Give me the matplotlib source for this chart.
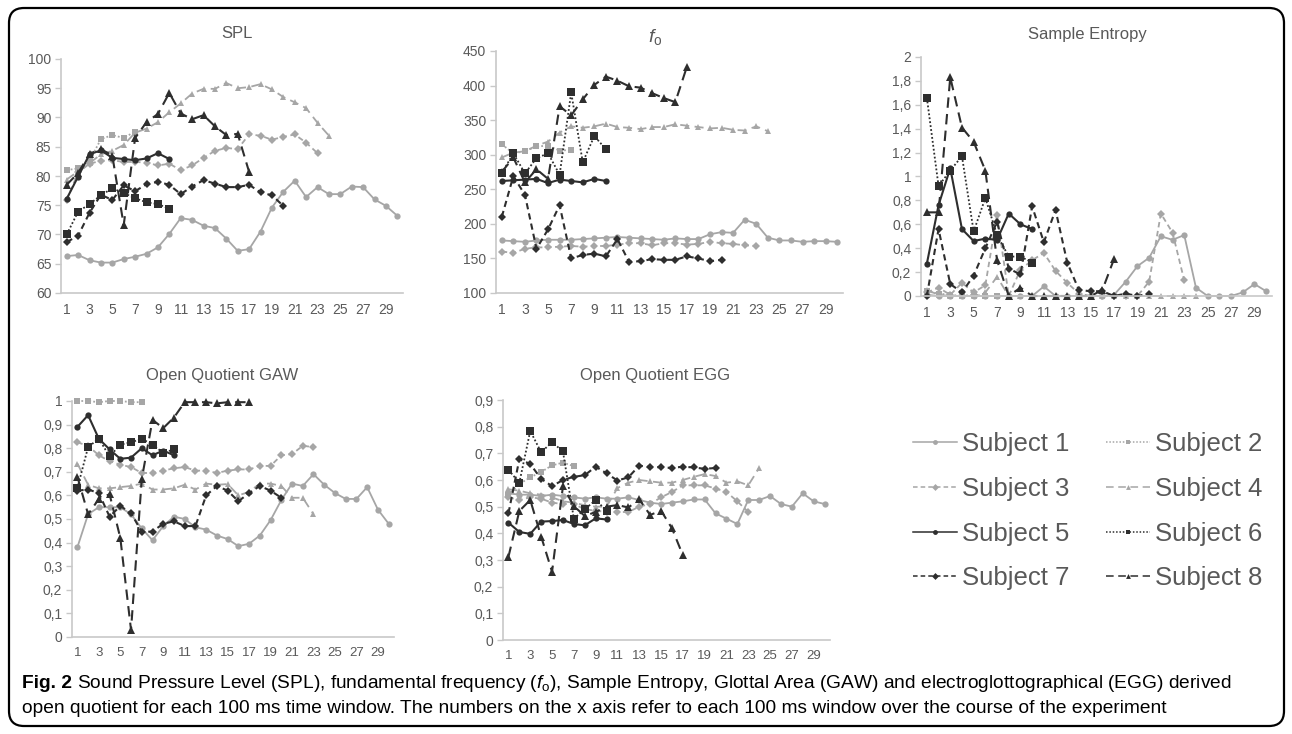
import matplotlib
matplotlib.use('Agg')
import matplotlib.pyplot as plt
from matplotlib.lines import Line2D
from matplotlib.patches import FancyBboxPatch
from matplotlib.ticker import FuncFormatter

plt.rcParams['font.family'] = ['Liberation Sans', 'DejaVu Sans']
plt.rcParams['mathtext.fontset'] = 'custom'
plt.rcParams['mathtext.rm'] = 'Liberation Sans'
plt.rcParams['mathtext.it'] = 'Liberation Sans:italic'
plt.rcParams['mathtext.bf'] = 'Liberation Sans:bold'

# ---- data ----
windows = list(range(1, 31))
subjects = ['Subject 1', 'Subject 2', 'Subject 3', 'Subject 4',
            'Subject 5', 'Subject 6', 'Subject 7', 'Subject 8']

spl_1 = [66.3, 66.5, 65.6, 65.2, 65.2, 65.8, 66.2, 66.7, 67.8, 70.1, 72.8, 72.5, 71.5, 71.1, 69.3,
         67.2, 67.5, 70.5, 74.6, 77.3, 79.2, 76.4, 78.1, 76.9, 76.9, 78.2, 78.1, 76.0, 74.9, 73.2]
spl_2 = [81.0, 81.3, 82.6, 86.3, 87.0, 86.5, 87.6]
spl_3 = [75.9, 80.6, 82.1, 82.6, 82.7, 82.4, 82.4, 82.3, 81.8, 82.1, 81.0, 81.8, 83.1, 84.3, 84.8,
         84.6, 87.1, 86.9, 86.2, 86.7, 87.1, 85.7, 83.9]
spl_4 = [79.4, 80.8, 82.2, 83.7, 84.3, 85.3, 87.4, 88.1, 89.2, 90.9, 92.4, 94.1, 94.9, 94.9, 95.9,
         95.0, 95.2, 95.7, 94.8, 93.5, 92.6, 91.6, 89.1, 86.9]
spl_5 = [76.1, 79.9, 83.7, 84.4, 83.1, 82.9, 82.7, 83.0, 83.9, 82.9]
spl_6 = [70.0, 73.9, 75.2, 76.7, 77.9, 77.1, 76.2, 75.5, 75.2, 74.4]
spl_7 = [68.7, 69.8, 73.7, 76.8, 75.9, 78.4, 77.4, 78.6, 79.0, 78.5, 76.9, 78.2, 79.3, 78.7, 78.1,
         78.1, 78.5, 77.2, 76.7, 74.9]
spl_8 = [78.5, 80.5, 83.8, 84.6, 83.5, 71.6, 86.5, 89.2, 90.6, 94.2, 90.7, 89.7, 90.4, 88.5, 87.0,
         87.2, 80.7]

f0_1 = [176, 175, 174, 176, 177, 177, 177, 178, 179, 180, 181, 180, 179, 178, 177, 179, 178, 178,
        185, 188, 187, 206, 200, 180, 176, 176, 174, 175, 175, 174]
f0_2 = [315, 302, 305, 312, 313, 306, 307]
f0_3 = [160, 158, 164, 166, 166, 167, 168, 167, 168, 168, 170, 172, 172, 169, 172, 172, 170, 171,
        174, 172, 171, 169, 168]
f0_4 = [296, 303, 305, 313, 319, 332, 341, 339, 341, 345, 340, 339, 337, 340, 340, 344, 342, 340,
        338, 339, 336, 335, 341, 334]
f0_5 = [262, 263, 264, 265, 259, 264, 262, 260, 265, 262]
f0_6 = [273, 302, 273, 295, 302, 271, 390, 289, 327, 308]
f0_7 = [210, 269, 242, 164, 192, 227, 150, 155, 157, 153, 178, 145, 146, 149, 148, 148, 153, 150,
        146, 148]
f0_8 = [275, 296, 260, 279, 265, 370, 357, 380, 401, 413, 407, 399, 397, 389, 382, 376, 427]

se_1 = [0.01, 0.0, 0.0, 0.0, 0.0, 0.0, 0.0, 0.0, 0.0, 0.0, 0.08, 0.0, 0.0, 0.0, 0.0, 0.0, 0.01,
        0.12, 0.25, 0.32, 0.5, 0.47, 0.51, 0.07, 0.0, 0.0, 0.0, 0.03, 0.1, 0.04]
se_2 = [0.04, 0.02, 0.01, 0.0, 0.01, 0.0, 0.0]
se_3 = [0.03, 0.07, 0.01, 0.11, 0.03, 0.09, 0.68, 0.0, 0.22, 0.3, 0.36, 0.21, 0.11, 0.02, 0.0,
        0.0, 0.0, 0.0, 0.0, 0.12, 0.69, 0.53, 0.13]
se_4 = [0.05, 0.01, 0.0, 0.0, 0.0, 0.03, 0.16, 0.0, 0.0, 0.0, 0.0, 0.0, 0.0, 0.0, 0.0, 0.0, 0.0,
        0.0, 0.0, 0.0, 0.0, 0.0, 0.0, 0.0]
se_5 = [0.27, 0.76, 1.07, 0.56, 0.46, 0.48, 0.47, 0.69, 0.6, 0.56]
se_6 = [1.66, 0.92, 1.05, 1.17, 0.54, 0.82, 0.51, 0.33, 0.33, 0.28]
se_7 = [0.0, 0.56, 0.1, 0.03, 0.17, 0.4, 0.62, 0.23, 0.18, 0.75, 0.45, 0.72, 0.28, 0.05, 0.04,
        0.04, 0.0, 0.02, 0.0, 0.02]
se_8 = [0.7, 0.7, 1.83, 1.41, 1.29, 1.05, 0.3, 0.0, 0.07, 0.0, 0.0, 0.0, 0.0, 0.0, 0.0, 0.05, 0.31]

gaw_1 = [0.38, 0.52, 0.55, 0.55, 0.55, 0.52, 0.46, 0.41, 0.47, 0.51, 0.5, 0.465, 0.455, 0.43,
         0.415, 0.385, 0.395, 0.43, 0.495, 0.58, 0.65, 0.64, 0.69, 0.645, 0.61, 0.585, 0.585,
         0.635, 0.54, 0.48]
gaw_2 = [1.0, 1.0, 0.995, 1.0, 1.0, 0.995, 0.995]
gaw_3 = [0.825, 0.81, 0.77, 0.745, 0.73, 0.72, 0.695, 0.695, 0.705, 0.715, 0.72, 0.705, 0.705,
         0.695, 0.705, 0.71, 0.71, 0.725, 0.725, 0.77, 0.775, 0.81, 0.805]
gaw_4 = [0.735, 0.645, 0.63, 0.63, 0.635, 0.64, 0.65, 0.625, 0.625, 0.63, 0.645, 0.625, 0.65,
         0.645, 0.648, 0.6, 0.615, 0.65, 0.65, 0.64, 0.59, 0.59, 0.52]
gaw_5 = [0.89, 0.94, 0.84, 0.795, 0.755, 0.76, 0.8, 0.77, 0.79, 0.77]
gaw_6 = [0.63, 0.805, 0.84, 0.765, 0.815, 0.825, 0.84, 0.815, 0.78, 0.795]
gaw_7 = [0.62, 0.625, 0.61, 0.51, 0.555, 0.525, 0.445, 0.447, 0.48, 0.49, 0.47, 0.47, 0.6, 0.64,
         0.62, 0.575, 0.61, 0.64, 0.62, 0.59]
gaw_8 = [0.68, 0.52, 0.585, 0.605, 0.42, 0.03, 0.67, 0.92, 0.885, 0.93, 0.995, 0.995, 0.995,
         0.99, 0.995, 0.995, 0.995]

egg_1 = [0.55, 0.545, 0.545, 0.54, 0.545, 0.54, 0.535, 0.53, 0.535, 0.53, 0.53, 0.535, 0.525,
         0.515, 0.51, 0.515, 0.52, 0.527, 0.527, 0.475, 0.455, 0.435, 0.525, 0.525, 0.54, 0.51,
         0.5, 0.55, 0.52, 0.51]
egg_2 = [0.545, 0.585, 0.61, 0.63, 0.655, 0.665, 0.652]
egg_3 = [0.535, 0.525, 0.535, 0.53, 0.515, 0.51, 0.51, 0.49, 0.485, 0.48, 0.48, 0.48, 0.5, 0.51,
         0.535, 0.555, 0.58, 0.58, 0.58, 0.568, 0.555, 0.52, 0.48]
egg_4 = [0.565, 0.56, 0.55, 0.545, 0.535, 0.52, 0.515, 0.505, 0.5, 0.5, 0.57, 0.59, 0.6, 0.595,
         0.59, 0.59, 0.6, 0.612, 0.622, 0.615, 0.59, 0.595, 0.58, 0.645]
egg_5 = [0.44, 0.405, 0.398, 0.444, 0.446, 0.45, 0.435, 0.43, 0.456, 0.452]
egg_6 = [0.638, 0.59, 0.784, 0.704, 0.742, 0.707, 0.455, 0.49, 0.525, 0.485]
egg_7 = [0.475, 0.678, 0.66, 0.604, 0.577, 0.6, 0.612, 0.618, 0.65, 0.625, 0.598, 0.61, 0.654,
         0.648, 0.648, 0.645, 0.65, 0.647, 0.642, 0.645]
egg_8 = [0.312, 0.484, 0.525, 0.388, 0.256, 0.576, 0.502, 0.465, 0.48, 0.5, 0.506, 0.497, 0.527,
         0.469, 0.485, 0.419, 0.318]

# ---- styles ----
GRAY = '#a6a6a6'
DARK = '#2e2e2e'
TXT = '#595959'
AXC = '#c8c8c8'
colors = [GRAY] * 4 + [DARK] * 4
lstyles = ['-', (0, (1, 1.2)), (0, (3, 2)), (0, (5, 3)),
           '-', (0, (1, 1.2)), (0, (3, 2)), (0, (5, 3))]
markers = ['o', 's', 'D', '^', 'o', 's', 'D', '^']
msizes = [4.5, 5, 3.8, 5, 4.5, 5.5, 3.8, 5.5]
lwidths = [1.3, 1.3, 1.3, 1.3, 1.5, 1.3, 1.5, 1.5]

W, H = 1292, 734
fig = plt.figure(figsize=(W / 100, H / 100), dpi=100)


def add_panel(left, top, right, bottom):
    return fig.add_axes([left / W, 1 - bottom / H, (right - left) / W, (bottom - top) / H])


def comma(v, pos):
    s = ('%.1f' % v).rstrip('0').rstrip('.')
    return s.replace('.', ',')


def style_axis(ax, ylo, yhi, ystep, fmt=None, xsize=10):
    ax.set_xlim(0.5, 30.5)
    ax.set_ylim(ylo, yhi)
    ax.set_xticks(windows[::2])
    n = int(round((yhi - ylo) / ystep))
    ax.set_yticks([ylo + k * ystep for k in range(n + 1)])
    if fmt:
        ax.yaxis.set_major_formatter(FuncFormatter(fmt))
    for s in ['top', 'right']:
        ax.spines[s].set_visible(False)
    for s in ['left', 'bottom']:
        ax.spines[s].set_color(AXC)
        ax.spines[s].set_linewidth(1.2)
    ax.tick_params(axis='y', length=4, width=1, color=AXC, labelcolor=TXT, labelsize=10, pad=3)
    ax.tick_params(axis='x', length=0, labelcolor=TXT, labelsize=xsize, pad=7)
    ax.patch.set_alpha(0)


def draw(ax, series):
    for k, vals in enumerate(series):
        ax.plot(windows[:len(vals)], vals, color=colors[k], linestyle=lstyles[k],
                marker=markers[k], markersize=msizes[k], linewidth=lwidths[k],
                markeredgewidth=0, clip_on=False)


ax_spl = add_panel(61, 59, 403, 293)
draw(ax_spl, [spl_1, spl_2, spl_3, spl_4, spl_5, spl_6, spl_7, spl_8])
style_axis(ax_spl, 60, 100, 5)

ax_f0 = add_panel(496, 51, 843, 293)
draw(ax_f0, [f0_1, f0_2, f0_3, f0_4, f0_5, f0_6, f0_7, f0_8])
style_axis(ax_f0, 100, 450, 50)

ax_se = add_panel(921, 57, 1272, 296)
draw(ax_se, [se_1, se_2, se_3, se_4, se_5, se_6, se_7, se_8])
style_axis(ax_se, 0, 2, 0.2, comma)

ax_gaw = add_panel(72, 401, 394, 637)
draw(ax_gaw, [gaw_1, gaw_2, gaw_3, gaw_4, gaw_5, gaw_6, gaw_7, gaw_8])
style_axis(ax_gaw, 0, 1, 0.1, comma, xsize=9.5)

ax_egg = add_panel(503, 400, 830, 640)
draw(ax_egg, [egg_1, egg_2, egg_3, egg_4, egg_5, egg_6, egg_7, egg_8])
style_axis(ax_egg, 0, 0.9, 0.1, comma, xsize=9.5)

# titles
fig.text(237 / W, 1 - 33 / H, 'SPL', ha='center', va='center', fontsize=12, color=TXT)
fig.text(655 / W, 1 - 37 / H, r'$\it{f}_{\rm o}$', ha='center', va='center', fontsize=14, color=TXT)
fig.text(1087 / W, 1 - 35 / H, 'Sample Entropy', ha='center', va='center', fontsize=12, color=TXT)
fig.text(222 / W, 1 - 375 / H, 'Open Quotient GAW', ha='center', va='center', fontsize=12, color=TXT)
fig.text(655 / W, 1 - 375 / H, 'Open Quotient EGG', ha='center', va='center', fontsize=12, color=TXT)

# legend, filled row by row
handles = [Line2D([], [], color=colors[k], linestyle=lstyles[k], marker=markers[k],
                  markersize=3.5, markeredgewidth=0, linewidth=1.1) for k in range(8)]
order = [0, 2, 4, 6, 1, 3, 5, 7]
leg = fig.legend([handles[k] for k in order], [subjects[k] for k in order], ncol=2,
                 loc='upper left', bbox_to_anchor=(913 / W, 1 - 432 / H), frameon=False,
                 fontsize=18.5, handlelength=1.7, handletextpad=0.2, columnspacing=1.45,
                 labelspacing=0.81, borderpad=0, borderaxespad=0)
for t in leg.get_texts():
    t.set_color(TXT)

# caption
cap_size = 13.8
cap1 = fig.text(22 / W, 1 - 688 / H, 'Fig. 2', fontsize=cap_size, weight='bold', va='baseline')
fig.canvas.draw()
bb = cap1.get_window_extent(fig.canvas.get_renderer())
fig.text((bb.x1 + 5) / W, 1 - 688 / H,
         r'Sound Pressure Level (SPL), fundamental frequency ($\it{f}_{\rm o}$), Sample Entropy, '
         'Glottal Area (GAW) and electroglottographical (EGG) derived',
         fontsize=cap_size, va='baseline')
fig.text(22 / W, 1 - 713 / H,
         'open quotient for each 100 ms time window. The numbers on the x axis refer to each '
         '100 ms window over the course of the experiment',
         fontsize=cap_size, va='baseline')

# rounded frame around the whole figure
frame = FancyBboxPatch((0.09, 0.08), 12.75, 7.18, boxstyle='round,pad=0,rounding_size=0.15',
                       transform=fig.dpi_scale_trans, fill=False, edgecolor='black', linewidth=1.6)
fig.add_artist(frame)

fig.savefig('out.png', dpi=100)
